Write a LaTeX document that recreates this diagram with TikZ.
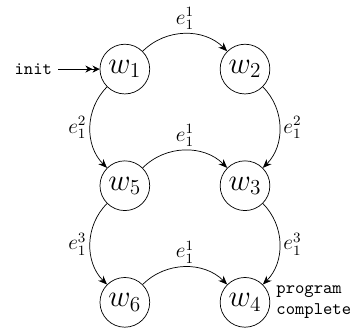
\documentclass[tikz,border=0pt]{standalone}
\usetikzlibrary{positioning,arrows.meta,calc}
\tikzset{
  world/.style={circle,draw=black,minimum size=28pt,inner sep=0pt,font=\LARGE},
  trans/.style={-{Stealth[length=5pt,width=4pt]},draw=black},
  start/.style={-{Stealth[length=4pt,width=4pt]Stealth[length=4pt,width=4pt]},draw=black},
  elabel/.style={font=\large,inner sep=2pt}
}

\begin{document}
\begin{tikzpicture}[node distance=1.31cm and 1.38cm]
  \node[world] (w1) {$w_1$};
  \node[world,right=of w1] (w2) {$w_2$};
  \node[world,below=of w1] (w5) {$w_5$};
  \node[world,below=of w2] (w3) {$w_3$};
  \node[world,below=of w5] (w6) {$w_6$};
  \node[world,below=of w3] (w4) {$w_4$};
  \node[left=0.82cm of w1] (init) {\texttt{init}};
  \node[right=0pt of w4,align=left,font=\ttfamily] (done) {program\\complete};
  \useasboundingbox ($(w1.center)+(-70.3pt,38.9pt)$) rectangle ++(198.3pt,-185pt);
  \draw[start] (init) -- (w1);
  \draw[trans] (w1) to[bend left=45] node[elabel,above] {$e_1^1$} (w2);
  \draw[trans] (w1) to[bend right=45] node[elabel,left] {$e_1^2$} (w5);
  \draw[trans] (w2) to[bend left=45] node[elabel,right] {$e_1^2$} (w3);
  \draw[trans] (w5) to[bend left=45] node[elabel,above] {$e_1^1$} (w3);
  \draw[trans] (w5) to[bend right=45] node[elabel,left] {$e_1^3$} (w6);
  \draw[trans] (w3) to[bend left=45] node[elabel,right] {$e_1^3$} (w4);
  \draw[trans] (w6) to[bend left=45] node[elabel,above] {$e_1^1$} (w4);
\end{tikzpicture}
\end{document}
